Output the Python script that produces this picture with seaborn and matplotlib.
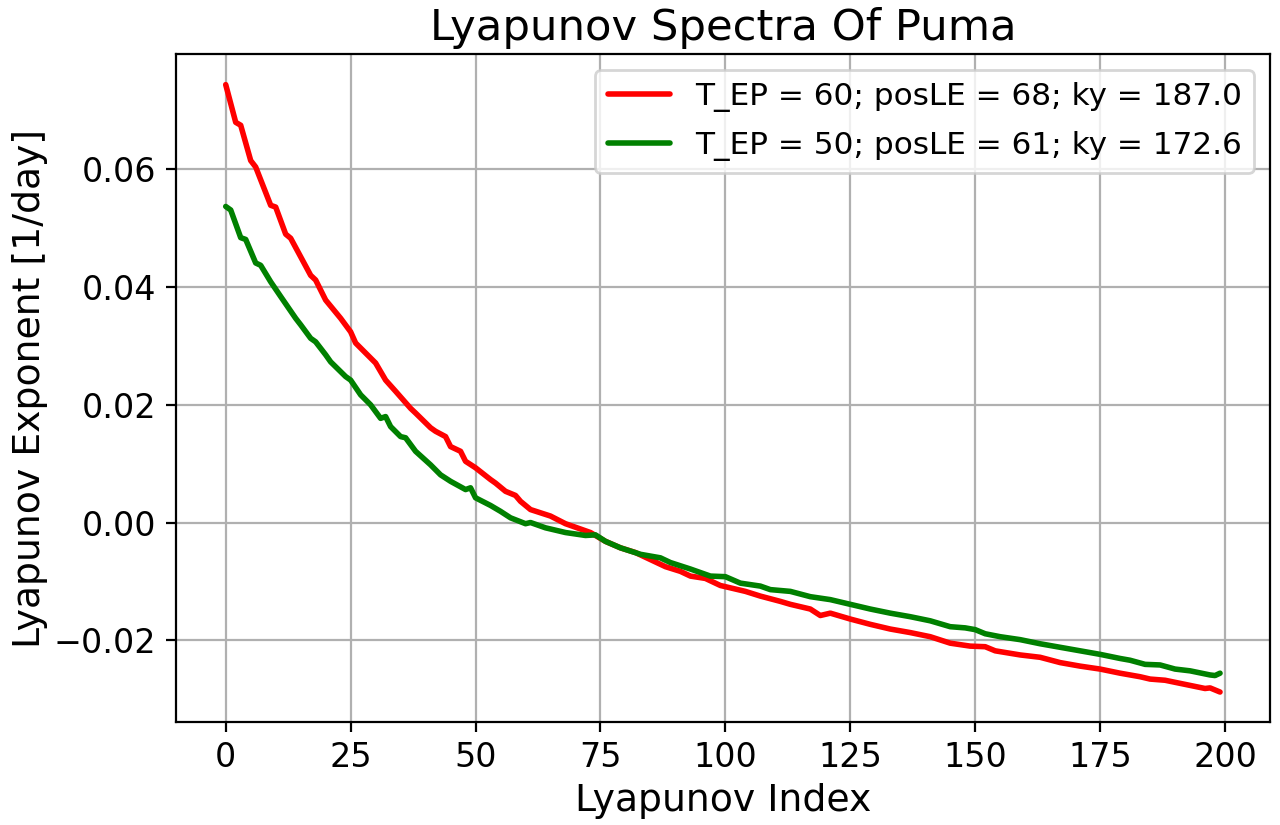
import numpy as np
import pandas as pd
import matplotlib
matplotlib.use("Agg")
import matplotlib.pyplot as plt
import seaborn as sns

# values (index, exponent)
red_idx = [0, 2, 3, 5, 6, 9, 10, 12, 13, 17, 18, 20, 23, 25, 26, 28, 30, 32, 34, 37,
           38, 41, 42, 44, 45, 47, 48, 50, 53, 54, 56, 58, 59, 61, 65, 68, 71, 73, 76, 79,
           82, 85, 88, 91, 93, 96, 99, 101, 104, 107, 111, 113, 117, 119, 121, 125, 129, 133, 137, 141,
           145, 149, 152, 154, 159, 163, 167, 171, 175, 179, 183, 185, 188, 192, 196, 197, 199]
red_le = [0.0744, 0.0680, 0.0675, 0.0615, 0.0604, 0.0539, 0.0536, 0.0490, 0.0483, 0.0420,
          0.0412, 0.0378, 0.0347, 0.0324, 0.0305, 0.0288, 0.0271, 0.0242, 0.0223, 0.0194,
          0.0186, 0.0161, 0.0155, 0.0146, 0.0129, 0.0121, 0.0104, 0.0093, 0.0073, 0.0067,
          0.0053, 0.0046, 0.0036, 0.0022, 0.0011, -0.0002, -0.0011, -0.0017, -0.0032, -0.0043,
          -0.0051, -0.0063, -0.0075, -0.0083, -0.0091, -0.0095, -0.0107, -0.0111, -0.0117, -0.0125,
          -0.0134, -0.0139, -0.0147, -0.0158, -0.0154, -0.0164, -0.0173, -0.0181, -0.0187, -0.0194,
          -0.0205, -0.0210, -0.0211, -0.0218, -0.0225, -0.0229, -0.0238, -0.0244, -0.0249, -0.0256,
          -0.0262, -0.0266, -0.0268, -0.0275, -0.0282, -0.0281, -0.0288]

green_idx = [0, 1, 3, 4, 6, 7, 9, 11, 14, 15, 17, 18, 20, 21, 24, 25, 27, 29, 31, 32,
             33, 35, 36, 38, 41, 43, 45, 48, 49, 50, 53, 55, 57, 60, 61, 64, 68, 72, 74, 76,
             79, 83, 87, 89, 93, 97, 100, 103, 107, 109, 113, 117, 121, 125, 129, 133, 137, 141, 145, 148,
             150, 152, 155, 159, 163, 167, 171, 175, 179, 181, 184, 187, 190, 193, 197, 198, 199]
green_le = [0.0537, 0.0531, 0.0484, 0.0481, 0.0441, 0.0437, 0.0409, 0.0384, 0.0347, 0.0336,
            0.0313, 0.0307, 0.0285, 0.0273, 0.0248, 0.0242, 0.0217, 0.0200, 0.0177, 0.0180,
            0.0163, 0.0146, 0.0144, 0.0121, 0.0098, 0.0081, 0.0070, 0.0056, 0.0059, 0.0042,
            0.0029, 0.0019, 0.0008, -0.0002, 0.0000, -0.0009, -0.0017, -0.0022, -0.0021, -0.0032,
            -0.0043, -0.0054, -0.0060, -0.0068, -0.0079, -0.0091, -0.0092, -0.0103, -0.0108, -0.0114,
            -0.0117, -0.0126, -0.0131, -0.0139, -0.0147, -0.0154, -0.0160, -0.0167, -0.0177, -0.0179,
            -0.0182, -0.0189, -0.0194, -0.0199, -0.0206, -0.0212, -0.0218, -0.0224, -0.0231, -0.0234,
            -0.0241, -0.0242, -0.0249, -0.0252, -0.0259, -0.0260, -0.0256]

labels = ["T_EP = 60; posLE = 68; ky = 187.0", "T_EP = 50; posLE = 61; ky = 172.6"]
colors = ["red", "green"]

df = pd.concat([
    pd.DataFrame({"idx": red_idx, "le": red_le, "run": labels[0]}),
    pd.DataFrame({"idx": green_idx, "le": green_le, "run": labels[1]}),
])

sns.set_theme(style="ticks")
plt.rcParams["font.family"] = ["DejaVu Sans"]
plt.rcParams.update({"text.color": "black", "axes.labelcolor": "black",
                     "xtick.color": "black", "ytick.color": "black"})

fig, ax = plt.subplots(figsize=(6.4, 4.125), dpi=200)
sns.lineplot(data=df, x="idx", y="le", hue="run", palette=colors, linewidth=2, ax=ax)

ax.set_xticks([0, 25, 50, 75, 100, 125, 150, 175, 200])
ax.set_yticks([-0.02, 0.0, 0.02, 0.04, 0.06])
ax.set_yticklabels(["\u22120.02", "0.00", "0.02", "0.04", "0.06"])
ax.set_xlim(-9.95, 208.95)
ax.set_ylim(-0.0339, 0.0796)
ax.grid(True, color="#b0b0b0", linewidth=0.8)
ax.tick_params(labelsize=12, length=3.5, width=0.8, pad=3.5)
for s in ax.spines.values():
    s.set_color("black")
    s.set_linewidth(0.8)

ax.set_title("Lyapunov Spectra Of Puma", fontsize=15.6, pad=5)
ax.set_xlabel("Lyapunov Index", fontsize=13.6, labelpad=3)
ax.set_ylabel("Lyapunov Exponent [1/day]", fontsize=13.6, labelpad=2)
ax.legend(title=None, loc="upper right", fontsize=11.2, framealpha=0.8,
          borderaxespad=0.5, labelspacing=0.6)

fig.subplots_adjust(left=0.1375, right=0.992, top=0.9345, bottom=0.1248)
fig.savefig("out.png", dpi=200)
